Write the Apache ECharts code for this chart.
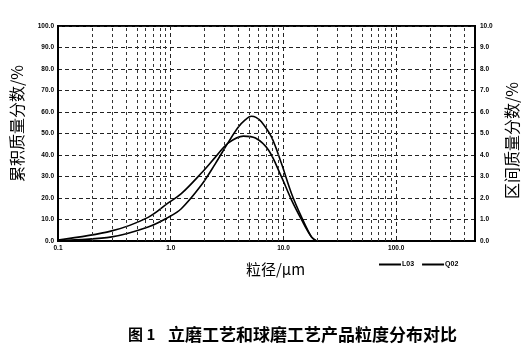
<!DOCTYPE html>
<html><head><meta charset="utf-8">
<script src="https://cdn.jsdelivr.net/npm/echarts@6/dist/echarts.min.js"></script>
<style>html,body{margin:0;padding:0;background:#fff}#c{width:530px;height:359px}</style>
</head><body><div id="c"></div>
<script>
// particle size (µm) and interval mass fraction (%)
var sizesL03 = [0.1, 0.3, 0.63, 0.95, 1.24, 1.87, 2.49, 3.25, 3.98, 4.5, 5.2, 5.7, 6.37, 7.82, 9.6, 11.8, 14.5, 17.7, 19.6];
var valuesL03 = [0.02, 0.19, 0.65, 1.1, 1.5, 2.6, 3.6, 4.6, 5.3, 5.6, 5.8, 5.75, 5.55, 4.84, 3.6, 2.2, 1.1, 0.19, 0];
var sizesQ02 = [0.1, 0.3, 0.63, 0.95, 1.24, 1.87, 2.49, 3.25, 4.41, 5.64, 7.36, 9.6, 11.8, 14.5, 17.7, 19.6];
var valuesQ02 = [0.05, 0.47, 1.1, 1.77, 2.2, 3.16, 3.9, 4.56, 4.88, 4.79, 4.23, 2.98, 1.9, 0.98, 0.19, 0];
var minorGrid = [0.2,0.3,0.4,0.5,0.6,0.7,0.8,0.9,2,3,4,5,6,7,8,9,20,30,40,50,60,70,80,90,200,300,400];
var seriesNames = ['L03', 'Q02'];
var leftAxisName = '累积质量分数/%';
var rightAxisName = '区间质量分数/%';
var xAxisName = '粒径/μm';

function pair(xs, ys){ return xs.map(function(x,i){ return [x, ys[i]]; }); }
var dashed = {color:'#222', width:1, type:[4,3]};
var tickFont = {fontSize:6.5, fontWeight:'bold', color:'#000', fontFamily:'Liberation Sans'};
var chart = echarts.init(document.getElementById('c'), null, {renderer:'canvas'});
chart.setOption({
  backgroundColor:'#fff',
  animation:false,
  grid:{left:58, right:55, top:26, bottom:118, outerBoundsMode:'none', containLabel:false,
    show:true, borderColor:'#000', borderWidth:2, backgroundColor:'transparent'},
  legend:{left:374, top:256, itemWidth:22, itemHeight:2, itemGap:8, icon:'rect',
    textStyle:{fontSize:7, fontWeight:'bold', color:'#000', fontFamily:'Liberation Sans', padding:[0,0,0,-4]},
    data:seriesNames},
  xAxis:{type:'log', logBase:10, min:0.1, max:500,
    name:xAxisName, nameLocation:'middle', nameGap:21,
    nameTextStyle:{fontSize:15, color:'#000', fontFamily:'Noto Sans CJK SC', padding:[0,0,0,18]},
    axisLine:{lineStyle:{color:'#000', width:2}}, axisTick:{show:false},
    axisLabel:Object.assign({margin:4, formatter:function(v){
      var l = Math.log10(v); if (Math.abs(l-Math.round(l))>1e-6) return ''; return Number(v).toFixed(1);} }, tickFont),
    splitLine:{show:true, lineStyle:dashed}},
  yAxis:[
    {type:'value', min:0, max:100, interval:10, position:'left',
     name:leftAxisName, nameLocation:'middle', nameGap:33, nameRotate:90,
     nameTextStyle:{fontSize:16, color:'#000', fontFamily:'Noto Sans CJK SC', padding:[0,0,0,20]},
     axisLine:{show:true, lineStyle:{color:'#000', width:2}}, axisTick:{show:false},
     axisLabel:Object.assign({margin:4, formatter:function(v){return v.toFixed(1);}}, tickFont),
     splitLine:{show:true, lineStyle:dashed}},
    {type:'value', min:0, max:10, interval:1, position:'right',
     name:rightAxisName, nameLocation:'middle', nameGap:27, nameRotate:90,
     nameTextStyle:{fontSize:16, color:'#000', fontFamily:'Noto Sans CJK SC', padding:[0,14,0,0]},
     axisLine:{show:true, lineStyle:{color:'#000', width:2}}, axisTick:{show:false},
     axisLabel:Object.assign({margin:5, formatter:function(v){return v.toFixed(1);}}, tickFont),
     splitLine:{show:false}}
  ],
  graphic:[
    {type:'text', left:128, top:327, style:{text:'图 1', fontSize:15, fontWeight:'bold', fill:'#000', fontFamily:'Noto Sans CJK SC'}},
    {type:'text', left:168, top:326, style:{text:'立磨工艺和球磨工艺产品粒度分布对比', fontSize:17, fontWeight:'bold', fill:'#000', fontFamily:'Noto Sans CJK SC'}}
  ],
  series:[
    {name:seriesNames[0], type:'line', yAxisIndex:1, smooth:0.35, symbol:'none',
     lineStyle:{color:'#000', width:1.6}, itemStyle:{color:'#000'},
     data:pair(sizesL03, valuesL03),
     markLine:{silent:true, symbol:'none', label:{show:false},
       lineStyle:{color:'#333', width:1, type:[3,3]},
       data:minorGrid.map(function(v){return {xAxis:v};})}},
    {name:seriesNames[1], type:'line', yAxisIndex:1, smooth:0.35, symbol:'none',
     lineStyle:{color:'#000', width:1.6}, itemStyle:{color:'#000'},
     data:pair(sizesQ02, valuesQ02)}
  ]
});
</script></body></html>
